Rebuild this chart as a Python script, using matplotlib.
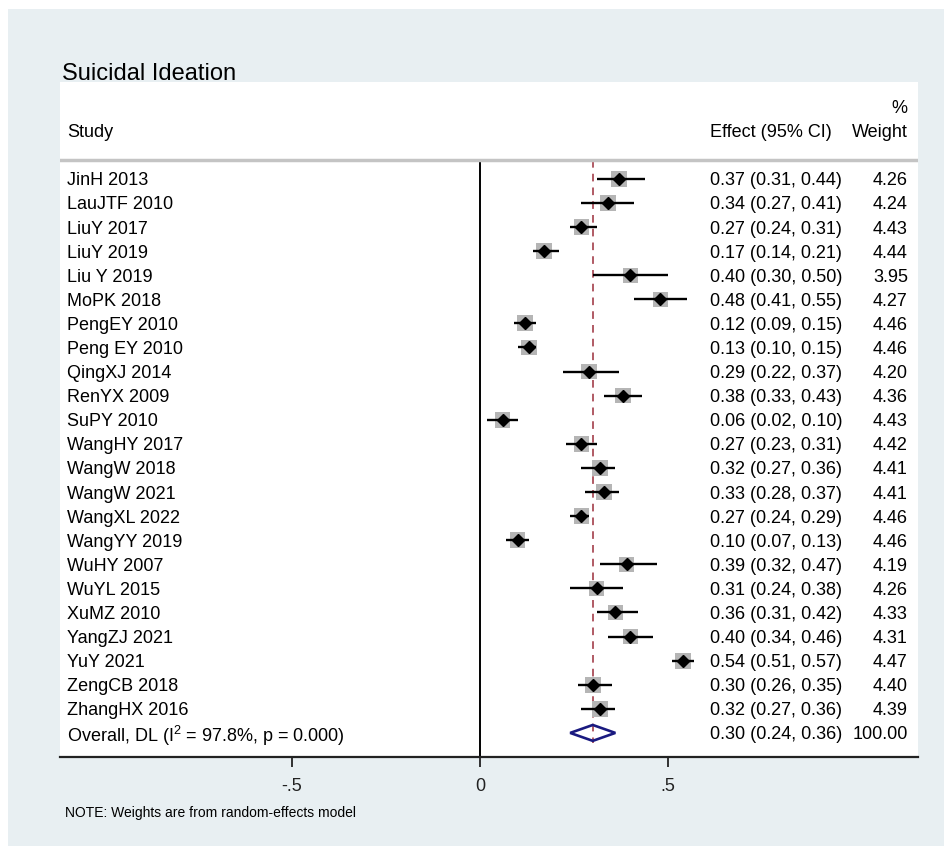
import matplotlib
matplotlib.use("Agg")
import matplotlib.pyplot as plt
from matplotlib.patches import Rectangle, Polygon

plt.rcParams["font.family"] = ["Liberation Sans", "DejaVu Sans"]
plt.rcParams["mathtext.fontset"] = "custom"
plt.rcParams["mathtext.rm"] = "Liberation Sans"
plt.rcParams["mathtext.default"] = "regular"

# --- data ---
studies = ["JinH 2013", "LauJTF 2010", "LiuY 2017", "LiuY 2019", "Liu Y 2019",
           "MoPK 2018", "PengEY 2010", "Peng EY 2010", "QingXJ 2014", "RenYX 2009",
           "SuPY 2010", "WangHY 2017", "WangW 2018", "WangW 2021", "WangXL 2022",
           "WangYY 2019", "WuHY 2007", "WuYL 2015", "XuMZ 2010", "YangZJ 2021",
           "YuY 2021", "ZengCB 2018", "ZhangHX 2016"]
effect = [0.37, 0.34, 0.27, 0.17, 0.40, 0.48, 0.12, 0.13, 0.29, 0.38, 0.06, 0.27,
          0.32, 0.33, 0.27, 0.10, 0.39, 0.31, 0.36, 0.40, 0.54, 0.30, 0.32]
ci_low = [0.31, 0.27, 0.24, 0.14, 0.30, 0.41, 0.09, 0.10, 0.22, 0.33, 0.02, 0.23,
          0.27, 0.28, 0.24, 0.07, 0.32, 0.24, 0.31, 0.34, 0.51, 0.26, 0.27]
ci_high = [0.44, 0.41, 0.31, 0.21, 0.50, 0.55, 0.15, 0.15, 0.37, 0.43, 0.10, 0.31,
           0.36, 0.37, 0.29, 0.13, 0.47, 0.38, 0.42, 0.46, 0.57, 0.35, 0.36]
weight = [4.26, 4.24, 4.43, 4.44, 3.95, 4.27, 4.46, 4.46, 4.20, 4.36, 4.43, 4.42,
          4.41, 4.41, 4.46, 4.46, 4.19, 4.26, 4.33, 4.31, 4.47, 4.40, 4.39]
overall_es, overall_lo, overall_hi, overall_w = 0.30, 0.24, 0.36, 100.00
i2, pval = 97.8, 0.000
xticks = [-0.5, 0, 0.5]
xticklabels = ["-.5", "0", ".5"]

BG = "#e8eff2"
W, H = 945, 848

fig = plt.figure(figsize=(W / 100, H / 100), dpi=100)
fig.patch.set_facecolor("white")
fig.patches.append(Rectangle((8 / W, 2 / H), 1 - 8 / W, (H - 11) / H,
                             transform=fig.transFigure, facecolor=BG,
                             edgecolor="none", zorder=-10))

# plot region (white), px 60..918 x 82..757
ax = fig.add_axes([60 / W, (H - 757) / H, 858 / W, 675 / H])
ax.set_facecolor("white")
n = len(studies)
ax.set_xlim(-1.117, 1.165)
ax.set_ylim(n + 1, -4.02)
for s in ["top", "left", "right"]:
    ax.spines[s].set_visible(False)
ax.spines["bottom"].set_linewidth(1.6)
ax.spines["bottom"].set_color("#222222")
ax.set_yticks([])
ax.set_xticks(xticks)
ax.set_xticklabels(xticklabels, fontsize=13)
ax.tick_params(axis="x", length=7, width=1.3, pad=8, colors="#222222")

fs = 13
va = "center_baseline"
x_study, x_eff, x_wt = -1.098, 0.612, 1.138

# header
ax.axhline(-0.79, color="#c4c4c4", lw=2.5)
ax.text(x_wt, -3, "%", ha="right", va=va, fontsize=fs)
ax.text(x_study, -2, "Study", ha="left", va=va, fontsize=fs)
ax.text(x_eff, -2, "Effect (95% CI)", ha="left", va=va, fontsize=fs)
ax.text(x_wt, -2, "Weight", ha="right", va=va, fontsize=fs)

# reference lines
ax.plot([0, 0], [-0.79, n + 1], color="black", lw=1.4, zorder=1)
ax.plot([overall_es, overall_es], [-0.79, n + 0.4], color="#9b2d3a", lw=1.1,
        ls=(0, (5, 4)), zorder=1)

rows = list(range(n))
ax.scatter(effect, rows, marker="s", s=[29 * w for w in weight],
           color="#b5b5b5", edgecolors="none", zorder=2)
ax.hlines(rows, ci_low, ci_high, color="black", lw=1.7, zorder=3)
ax.plot(effect, rows, ls="none", marker="D", ms=6.5, color="black", zorder=4)

for i in rows:
    ax.text(x_study, i, studies[i], ha="left", va=va, fontsize=fs)
    ax.text(x_eff, i, f"{effect[i]:.2f} ({ci_low[i]:.2f}, {ci_high[i]:.2f})",
            ha="left", va=va, fontsize=fs)
    ax.text(x_wt, i, f"{weight[i]:.2f}", ha="right", va=va, fontsize=fs)

# overall diamond
yo = n
ax.add_patch(Polygon([(overall_lo, yo), (overall_es, yo - 0.33),
                      (overall_hi, yo), (overall_es, yo + 0.33)],
                     closed=True, fill=False, edgecolor="#1a1a80", lw=1.9,
                     zorder=4))
ax.text(x_study, yo, f"Overall, DL (I$^{{2}}$ = {i2:.1f}%, p = {pval:.3f})",
        ha="left", va=va, fontsize=fs)
ax.text(x_eff, yo, f"{overall_es:.2f} ({overall_lo:.2f}, {overall_hi:.2f})",
        ha="left", va=va, fontsize=fs)
ax.text(x_wt, yo, f"{overall_w:.2f}", ha="right", va=va, fontsize=fs)

fig.text(62 / W, 1 - 71 / H, "Suicidal Ideation", ha="left", va=va,
         fontsize=17)
fig.text(65 / W, 1 - 812 / H, "NOTE: Weights are from random-effects model",
         ha="left", va=va, fontsize=10)

fig.savefig("out.png", dpi=100, facecolor=fig.get_facecolor())
